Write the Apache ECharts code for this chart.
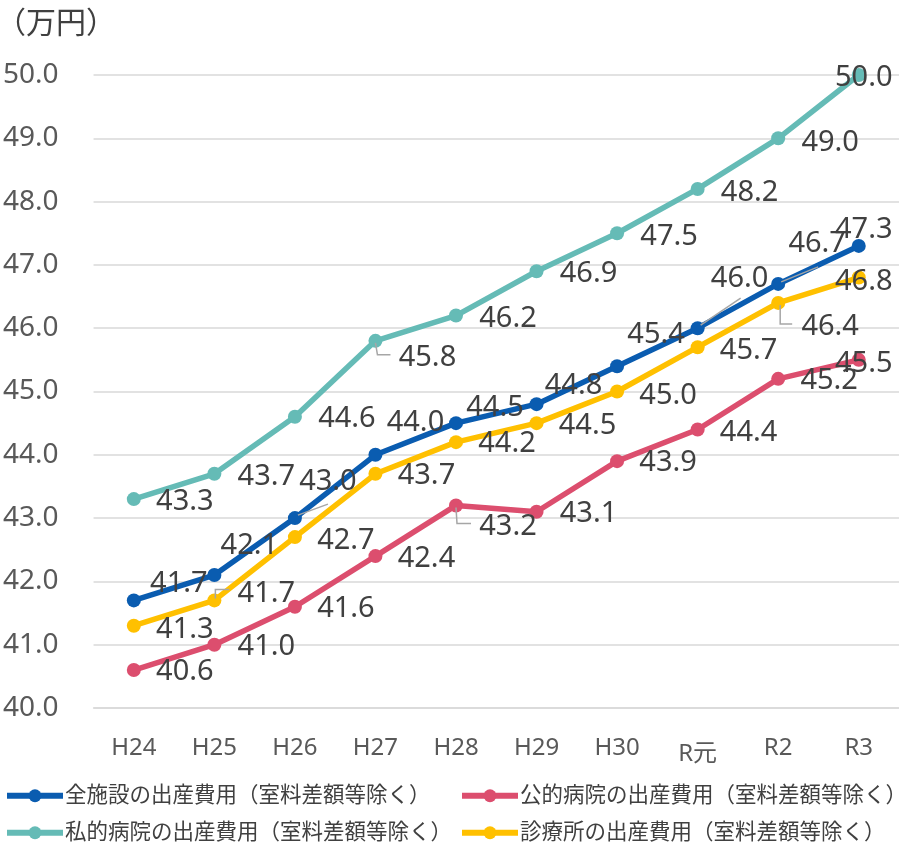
<!DOCTYPE html>
<html>
<head>
<meta charset="utf-8">
<script src="https://cdn.jsdelivr.net/npm/echarts@6/dist/echarts.min.js"></script>
<style>
html,body{margin:0;padding:0;background:#fff;}
#chart{width:899px;height:844px;}
</style>
</head>
<body>
<div id="chart"></div>
<script>
// ---- Data ----
const categories = ['H24','H25','H26','H27','H28','H29','H30','R元','R2','R3'];
const seriesNames = [
  '全施設の出産費用（室料差額等除く）',
  '公的病院の出産費用（室料差額等除く）',
  '私的病院の出産費用（室料差額等除く）',
  '診療所の出産費用（室料差額等除く）'
];
const allFacilities = [41.7, 42.1, 43.0, 44.0, 44.5, 44.8, 45.4, 46.0, 46.7, 47.3];
const publicHospitals = [40.6, 41.0, 41.6, 42.4, 43.2, 43.1, 43.9, 44.4, 45.2, 45.5];
const privateHospitals = [43.3, 43.7, 44.6, 45.8, 46.2, 46.9, 47.5, 48.2, 49.0, 50.0];
const clinics = [41.3, 41.7, 42.7, 43.7, 44.2, 44.5, 45.0, 45.7, 46.4, 46.8];
const yTicks = {min: 40, max: 50, interval: 1};

// ---- Label placement (pixel offsets of label centre from point) ----
const offAll = [[45,-17],[35,-29],[33,-36],[40,-32],[39,-15],[37,-18],[39,-31],[42,-49],[39,-40],[5,-16]];
const offPub = [[51,2],[52,2],[51,2],[51,3],[52,21],[52,2],[51,2],[51,3],[51,2],[5,4]];
const offPriv = [[51,3],[52,3],[52,2],[52,17],[52,3],[52,3],[52,3],[52,4],[52,4],[5,3]];
const offCli = [[51,4],[52,-7],[51,4],[51,2],[51,2],[51,3],[51,4],[51,4],[52,24],[5,4]];

// leader lines: [seriesIndex, categoryIndex, pixel polyline relative to point]
const leaderLines = [
  [0, 2, [[3,-3],[33,-14]]],
  [0, 7, [[3,-3],[43,-30]]],
  [0, 8, [[3,-2],[40,-17]]],
  [2, 3, [[0,2],[2,14],[15,14]]],
  [1, 4, [[0,2],[1,18],[15,18]]],
  [3, 1, [[1,-2],[1,-11],[15,-11]]],
  [3, 8, [[2,2],[2,21],[14,21]]]
];

const colors = ['#0A5CB0', '#DC4E6E', '#65BBB6', '#FFC000'];
const values = [allFacilities, publicHospitals, privateHospitals, clinics];
const offsets = [offAll, offPub, offPriv, offCli];

const FONT = "'Noto Sans', 'Noto Sans CJK JP', sans-serif";

function buildData(vals, offs) {
  return vals.map((v, i) => ({
    value: v,
    label: {offset: offs[i]}
  }));
}

const lineSeries = values.map((vals, s) => ({
  name: seriesNames[s],
  type: 'line',
  data: buildData(vals, offsets[s]),
  symbol: 'circle',
  symbolSize: 14,
  lineStyle: {width: 5.5, color: colors[s]},
  itemStyle: {color: colors[s]},
  z: 2,
  label: {
    show: true,
    position: 'inside',
    align: 'center',
    verticalAlign: 'middle',
    color: '#404040',
    fontSize: 29,
    fontFamily: FONT,
    textBorderWidth: 0,
    formatter: p => p.value.toFixed(1)
  },
  emphasis: {disabled: true},
  animation: false
}));

const leaderData = leaderLines.map((l, k) => [l[1], values[l[0]][l[1]], k]);

const leaderSeries = {
  type: 'custom',
  name: 'leader',
  z: 5,
  silent: true,
  data: leaderData,
  renderItem: function (params, api) {
    const p = api.coord([api.value(0), api.value(1)]);
    const pts = leaderLines[api.value(2)][2].map(o => [p[0] + o[0], p[1] + o[1]]);
    return {
      type: 'polyline',
      shape: {points: pts},
      style: {stroke: '#A6A6A6', lineWidth: 1.5, fill: null}
    };
  },
  animation: false
};

function legendAt(name, left, top) {
  return {
    data: [name],
    left: left,
    top: top,
    orient: 'horizontal',
    itemWidth: 56,
    itemHeight: 16,
    itemGap: 0,
    padding: 0,
    lineStyle: {width: 6},
    textStyle: {fontSize: 21.5, color: '#404040', fontFamily: FONT, padding: [0,0,0,-3]},
    selectedMode: false
  };
}

const chart = echarts.init(document.getElementById('chart'), null, {renderer: 'canvas'});
chart.setOption({
  animation: false,
  title: {
    text: '（万円）',
    left: -4,
    top: 9,
    padding: 0,
    textStyle: {fontSize: 30, fontWeight: 'normal', color: '#404040', fontFamily: FONT}
  },
  grid: {left: 90, width: 813, top: 75, height: 633, containLabel: false},
  legend: [
    legendAt(seriesNames[0], 4, 785),
    legendAt(seriesNames[1], 459, 785),
    legendAt(seriesNames[2], 4, 822),
    legendAt(seriesNames[3], 459, 822)
  ],
  xAxis: {
    type: 'category',
    data: categories,
    boundaryGap: true,
    axisLine: {lineStyle: {color: '#D9D9D9', width: 1.5}},
    axisTick: {show: false},
    axisLabel: {
      interval: 0,
      fontSize: 24, color: '#595959', margin: 28, fontFamily: FONT,
      formatter: v => v === 'R元' ? '{low|' + v + '}' : v,
      rich: {low: {fontSize: 24, color: '#595959', fontFamily: FONT, padding: [6, 0, 0, 0]}}
    }
  },
  yAxis: {
    type: 'value',
    min: yTicks.min,
    max: yTicks.max,
    interval: yTicks.interval,
    axisLine: {show: false},
    axisTick: {show: false},
    splitLine: {lineStyle: {color: '#D9D9D9', width: 1.5}},
    axisLabel: {fontSize: 28, color: '#595959', margin: 35, fontFamily: FONT, formatter: v => v.toFixed(1)}
  },
  series: lineSeries.concat([leaderSeries])
});
</script>
</body>
</html>
